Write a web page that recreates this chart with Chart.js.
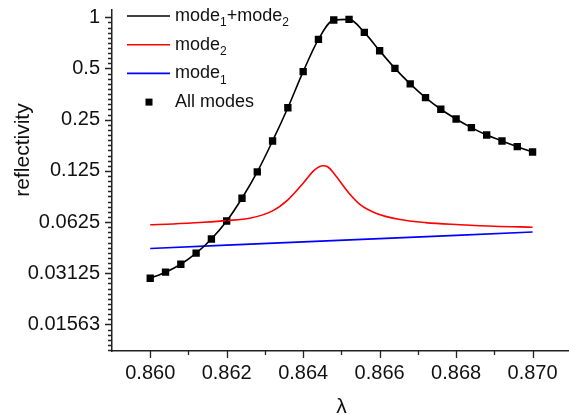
<!DOCTYPE html>
<html>
<head>
<meta charset="utf-8">
<script src="https://cdn.jsdelivr.net/npm/chart.js@4.4.1/dist/chart.umd.min.js"></script>
<style>
html, body { margin: 0; padding: 0; overflow: hidden; background: #fff; }
</style>
</head>
<body>
<canvas id="reflChart" width="576" height="415"></canvas>
<script>
// sampled wavelengths for the "All modes" points (also used by the sum curve)
var lambdaPts = [0.8600, 0.8604, 0.8608, 0.8612, 0.8616, 0.8620, 0.8624, 0.8628, 0.8632, 0.8636,
                 0.8640, 0.8644, 0.8648, 0.8652, 0.8656, 0.8660, 0.8664, 0.8668, 0.8672, 0.8676,
                 0.8680, 0.8684, 0.8688, 0.8692, 0.8696, 0.8700];
var sumValues = [0.0292, 0.0317, 0.0353, 0.0410, 0.0497, 0.0634, 0.0863, 0.1232, 0.1874, 0.294,
                 0.479, 0.742, 0.964, 0.973, 0.816, 0.636, 0.501, 0.406, 0.337, 0.288,
                 0.2524, 0.2245, 0.203, 0.1874, 0.1735, 0.1614];

// mode 2 (red resonance)
var mode2Lambda = [0.8600, 0.8606, 0.8614, 0.8620, 0.8626, 0.8632, 0.8636, 0.8640, 0.8643, 0.86452,
                   0.86464, 0.8648, 0.8652, 0.8655, 0.8659, 0.8665, 0.8672, 0.8681, 0.8690, 0.8700];
var mode2Values = [0.0603, 0.0609, 0.0623, 0.0637, 0.0658, 0.0727, 0.0844, 0.1057, 0.1266, 0.1339,
                   0.1321, 0.1210, 0.0923, 0.0788, 0.0705, 0.0649, 0.0620, 0.0603, 0.0590, 0.0583];

// mode 1 (blue background)
var mode1Lambda = [0.860, 0.862, 0.864, 0.866, 0.868, 0.870];
var mode1Values = [0.0437, 0.0457, 0.0478, 0.0499, 0.0522, 0.0546];

// axis ticks
var xTicks = [0.860, 0.862, 0.864, 0.866, 0.868, 0.870];
var xMinorTicks = [0.861, 0.863, 0.865, 0.867, 0.869, 0.871];
var yTicks = [1, 0.5, 0.25, 0.125, 0.0625, 0.03125, 0.015625];
var yTickLabels = ['1', '0.5', '0.25', '0.125', '0.0625', '0.03125', '0.01563'];

function toPoints(xs, ys) {
    return xs.map(function(x, i) { return { x: x, y: ys[i] }; });
}

var FONT = "'Liberation Sans', Arial, sans-serif";
Chart.defaults.font.family = FONT;

// axis tick marks, axis titles and the in-plot legend
var decorPlugin = {
    id: 'decor',
    afterDraw: function(chart) {
        var ctx = chart.ctx;
        var area = chart.chartArea;
        var xs = chart.scales.x, ys = chart.scales.y;
        ctx.save();
        ctx.strokeStyle = '#222';
        ctx.lineWidth = 1.3;
        ctx.beginPath();
        xTicks.forEach(function(v) {
            var px = Math.round(xs.getPixelForValue(v)) + 0.5;
            ctx.moveTo(px, area.bottom); ctx.lineTo(px, area.bottom + 7);
        });
        xMinorTicks.forEach(function(v) {
            var px = Math.round(xs.getPixelForValue(v)) + 0.5;
            if (px > area.right) return;
            ctx.moveTo(px, area.bottom); ctx.lineTo(px, area.bottom + 4);
        });
        yTicks.forEach(function(v) {
            var py = Math.round(ys.getPixelForValue(v)) + 0.5;
            ctx.moveTo(area.left, py); ctx.lineTo(area.left - 7, py);
        });
        for (var k = -7; k <= 0; k++) {
            for (var j = 1; j < 10; j++) {
                var v = Math.pow(2, k + j / 10);
                if (v < ys.min || v > 1) continue;
                var py = Math.round(ys.getPixelForValue(v)) + 0.5;
                ctx.moveTo(area.left, py); ctx.lineTo(area.left - 4, py);
            }
        }
        ctx.stroke();

        // axis titles
        ctx.fillStyle = '#111';
        ctx.font = '21px ' + FONT;
        ctx.textAlign = 'center';
        ctx.textBaseline = 'middle';
        ctx.fillText('\u03bb', (area.left + area.right) / 2, area.bottom + 56);
        ctx.save();
        ctx.translate(23, area.top + 140);
        ctx.rotate(-Math.PI / 2);
        ctx.fillText('reflectivity', 0, 0);
        ctx.restore();

        // legend
        var lx = area.left + 15, tx = area.left + 63, ly = area.top + 6, step = 28.7;
        var rows = [
            { color: '#000', parts: [['mode', 0], ['1', 1], ['+mode', 0], ['2', 1]] },
            { color: '#ff0000', parts: [['mode', 0], ['2', 1]] },
            { color: '#0000ff', parts: [['mode', 0], ['1', 1]] },
            { marker: true, parts: [['All modes', 0]] }
        ];
        ctx.textAlign = 'left';
        ctx.textBaseline = 'middle';
        rows.forEach(function(row, i) {
            var y = ly + i * step;
            if (row.marker) {
                ctx.fillStyle = '#000';
                ctx.fillRect(lx + 18.5, y - 3.5, 7, 7);
            } else {
                ctx.strokeStyle = row.color;
                ctx.lineWidth = 1.6;
                ctx.beginPath();
                ctx.moveTo(lx, y); ctx.lineTo(lx + 43, y);
                ctx.stroke();
            }
            var x = tx;
            ctx.fillStyle = '#111';
            row.parts.forEach(function(p) {
                if (p[1]) {
                    ctx.font = '12px ' + FONT;
                    ctx.fillText(p[0], x, y + 7);
                } else {
                    ctx.font = '18px ' + FONT;
                    ctx.fillText(p[0], x, y);
                }
                x += ctx.measureText(p[0]).width;
            });
        });
        ctx.restore();
    }
};

var ctx = document.getElementById('reflChart').getContext('2d');
var reflChart = new Chart(ctx, {
    type: 'line',
    data: {
        datasets: [{
            label: 'mode1+mode2',
            data: toPoints(lambdaPts, sumValues),
            borderColor: '#000',
            borderWidth: 1.6,
            pointRadius: 0,
            cubicInterpolationMode: 'monotone',
            fill: false
        }, {
            label: 'mode2',
            data: toPoints(mode2Lambda, mode2Values),
            borderColor: '#ff0000',
            borderWidth: 1.6,
            pointRadius: 0,
            cubicInterpolationMode: 'monotone',
            fill: false
        }, {
            label: 'mode1',
            data: toPoints(mode1Lambda, mode1Values),
            borderColor: '#0000ff',
            borderWidth: 1.6,
            pointRadius: 0,
            fill: false
        }, {
            label: 'All modes',
            data: toPoints(lambdaPts, sumValues),
            showLine: false,
            pointStyle: 'rect',
            pointRadius: 5.2,
            pointBackgroundColor: '#000',
            pointBorderColor: '#000',
            pointBorderWidth: 0
        }]
    },
    options: {
        responsive: false,
        animation: false,
        devicePixelRatio: 1,
        layout: { padding: { top: 10, right: 0, left: 0, bottom: 0 } },
        plugins: {
            legend: { display: false },
            tooltip: { enabled: false }
        },
        scales: {
            x: {
                type: 'linear',
                min: 0.859,
                max: 0.871,
                grid: { display: false, drawTicks: false },
                border: { display: true, color: '#222', width: 1.5 },
                afterBuildTicks: function(scale) {
                    scale.ticks = xTicks.map(function(v) { return { value: v }; });
                },
                afterFit: function(scale) {
                    scale.height = 64;
                    scale.paddingLeft = 0;
                    scale.paddingRight = 0;
                },
                ticks: {
                    color: '#111',
                    font: { size: 20 },
                    padding: 10,
                    maxRotation: 0,
                    callback: function(v) { return v.toFixed(3); }
                }
            },
            y: {
                type: 'logarithmic',
                min: 0.0109,
                max: 1.104,
                grid: { display: false, drawTicks: false },
                border: { display: true, color: '#222', width: 1.5 },
                afterBuildTicks: function(scale) {
                    scale.ticks = yTicks.map(function(v) { return { value: v }; });
                },
                afterFit: function(scale) {
                    scale.width = 112;
                    scale.paddingTop = 0;
                    scale.paddingBottom = 0;
                },
                ticks: {
                    color: '#111',
                    font: { size: 20 },
                    padding: 12,
                    autoSkip: false,
                    callback: function(v) {
                        var i = yTicks.indexOf(v);
                        return i >= 0 ? yTickLabels[i] : '';
                    }
                }
            }
        }
    },
    plugins: [decorPlugin]
});
</script>
</body>
</html>
